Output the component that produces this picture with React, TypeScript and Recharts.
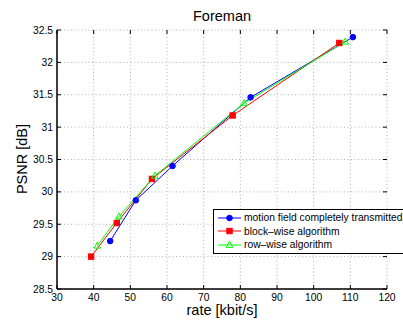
import { LineChart, Line, XAxis, YAxis, CartesianGrid } from "recharts";

// values
const RATE_TICKS = [30, 40, 50, 60, 70, 80, 90, 100, 110, 120];
const PSNR_TICKS = [28.5, 29, 29.5, 30, 30.5, 31, 31.5, 32, 32.5];

const FULL_RATE = [44.5, 51.5, 61.5, 82.8, 110.7];
const FULL_PSNR = [29.24, 29.87, 30.4, 31.46, 32.39];
const BLOCK_RATE = [39.3, 46.3, 55.9, 77.9, 107.0];
const BLOCK_PSNR = [29.0, 29.52, 30.2, 31.18, 32.3];
const ROW_RATE = [41.0, 46.9, 56.7, 81.0, 108.6];
const ROW_PSNR = [29.17, 29.62, 30.25, 31.37, 32.32];

const SERIES = [
  { name: "motion field completely transmitted", color: "#0000ff", marker: "circle", rate: FULL_RATE, psnr: FULL_PSNR },
  { name: "block\u2013wise algorithm", color: "#ff0000", marker: "square", rate: BLOCK_RATE, psnr: BLOCK_PSNR },
  { name: "row\u2013wise algorithm", color: "#00ff00", marker: "triangle", rate: ROW_RATE, psnr: ROW_PSNR },
];

const W = 403;
const H = 320;
const MARGIN = { top: 30, right: 16, bottom: 0, left: 0 };
const Y_AXIS_W = 57;
const X_AXIS_H = 31;
const PLOT_LEFT = MARGIN.left + Y_AXIS_W;
const PLOT_RIGHT = W - MARGIN.right;
const PLOT_TOP = MARGIN.top;
const PLOT_BOTTOM = H - MARGIN.bottom - X_AXIS_H;
const FONT = "'Liberation Sans', Arial, Helvetica, sans-serif";

function Marker({ kind, cx, cy, color }: { kind: string; cx: number; cy: number; color: string }) {
  if (kind === "circle") return <circle cx={cx} cy={cy} r={2.8} fill={color} stroke={color} />;
  if (kind === "square")
    return <rect x={cx - 2.7} y={cy - 2.7} width={5.4} height={5.4} fill={color} stroke={color} />;
  return (
    <polygon
      points={`${cx},${cy - 3.6} ${cx - 3.3},${cy + 2.5} ${cx + 3.3},${cy + 2.5}`}
      fill="none"
      stroke={color}
      strokeWidth={1}
    />
  );
}

function RateTick({ x, payload }: any) {
  return (
    <g>
      <line x1={x} x2={x} y1={PLOT_BOTTOM} y2={PLOT_BOTTOM - 4} stroke="#000" />
      <line x1={x} x2={x} y1={PLOT_TOP} y2={PLOT_TOP + 4} stroke="#000" />
      <text x={x} y={PLOT_BOTTOM + 12} textAnchor="middle" fontSize={10.3} fill="#000" fontFamily={FONT}>
        {payload.value}
      </text>
    </g>
  );
}

function PsnrTick({ y, payload }: any) {
  return (
    <g>
      <line x1={PLOT_LEFT} x2={PLOT_LEFT + 4} y1={y} y2={y} stroke="#000" />
      <line x1={PLOT_RIGHT} x2={PLOT_RIGHT - 4} y1={y} y2={y} stroke="#000" />
      <text x={PLOT_LEFT - 4} y={y + 3.6} textAnchor="end" fontSize={10.3} fill="#000" fontFamily={FONT}>
        {payload.value}
      </text>
    </g>
  );
}

function LegendBox() {
  return (
    <div
      style={{
        position: "absolute",
        left: 213,
        top: 209,
        border: "1px solid #000",
        background: "#fff",
        padding: "1px 8px 1px 4px",
        fontFamily: FONT,
        fontSize: 10.3,
        whiteSpace: "nowrap",
      }}
    >
      {SERIES.map((s) => (
        <div key={s.name} style={{ display: "flex", alignItems: "center", height: 13.5 }}>
          <svg width={24} height={10} style={{ marginRight: 2 }}>
            <line x1={0} x2={23} y1={5} y2={5} stroke={s.color} strokeWidth={1} />
            <Marker kind={s.marker} cx={11.5} cy={5} color={s.color} />
          </svg>
          <span>{s.name}</span>
        </div>
      ))}
    </div>
  );
}

export default function App() {
  return (
    <div style={{ position: "absolute", left: 0, top: 0, width: W, height: H, background: "#fff", overflow: "hidden" }}>
      <div
        style={{
          position: "absolute",
          left: PLOT_LEFT,
          width: PLOT_RIGHT - PLOT_LEFT,
          top: 7.5,
          lineHeight: "normal",
          textAlign: "center",
          fontFamily: FONT,
          fontSize: 14.5,
        }}
      >
        Foreman
      </div>
      <LineChart width={W} height={H} margin={MARGIN}>
        <CartesianGrid stroke="#b0b0b0" strokeDasharray="1 2.5" />
        <XAxis
          type="number"
          dataKey="rate"
          domain={[30, 120]}
          ticks={RATE_TICKS}
          height={X_AXIS_H}
          tickSize={0}
          tickMargin={0}
          tickLine={false}
          axisLine={{ stroke: "#000", strokeWidth: 1.5 }}
          tick={<RateTick />}
          allowDataOverflow
        />
        <XAxis xAxisId="top" orientation="top" type="number" domain={[30, 120]} height={0} tick={false} tickLine={false} axisLine={{ stroke: "#000", strokeWidth: 1.5 }} />
        <YAxis
          type="number"
          dataKey="psnr"
          domain={[28.5, 32.5]}
          ticks={PSNR_TICKS}
          width={Y_AXIS_W}
          tickSize={0}
          tickMargin={0}
          tickLine={false}
          axisLine={{ stroke: "#000", strokeWidth: 1.5 }}
          tick={<PsnrTick />}
          allowDataOverflow
          label={{
            content: () => (
              <text
                x={22}
                y={159}
                transform="rotate(-90, 22, 159)"
                textAnchor="middle"
                dominantBaseline="central"
                fontSize={14.5}
                fontFamily={FONT}
                fill="#000"
              >
                PSNR [dB]
              </text>
            ),
          }}
        />
        <YAxis yAxisId="right" orientation="right" type="number" domain={[28.5, 32.5]} width={0} tick={false} tickLine={false} axisLine={{ stroke: "#000", strokeWidth: 1.5 }} />
        {SERIES.map((s) => (
          <Line
            key={s.name}
            data={s.rate.map((r, i) => ({ rate: r, psnr: s.psnr[i] }))}
            dataKey="psnr"
            name={s.name}
            type="linear"
            stroke={s.color}
            strokeWidth={1}
            isAnimationActive={false}
            dot={(p: any) => <Marker key={`${s.name}-${p.index}`} kind={s.marker} cx={p.cx} cy={p.cy} color={s.color} />}
          />
        ))}
      </LineChart>
      <LegendBox />
      <div
        style={{
          position: "absolute",
          left: PLOT_LEFT,
          width: PLOT_RIGHT - PLOT_LEFT,
          top: 302,
          lineHeight: "normal",
          textAlign: "center",
          fontFamily: FONT,
          fontSize: 14.5,
        }}
      >
        rate [kbit/s]
      </div>
    </div>
  );
}
